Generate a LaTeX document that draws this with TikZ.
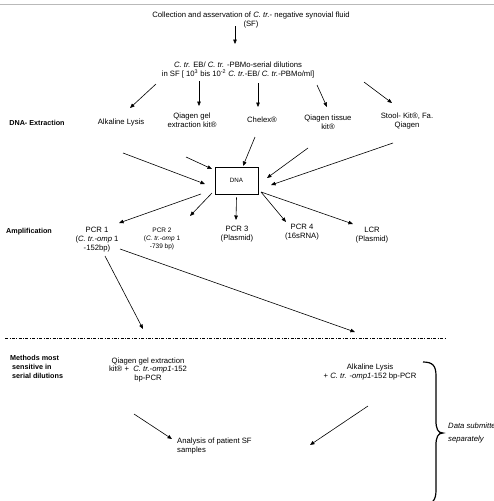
\documentclass[tikz,border=0pt]{standalone}
\usepackage{fontspec}
\setmainfont{Liberation Sans}
\usetikzlibrary{calc,arrows.meta}

\tikzset{
  txt/.style={align=center, inner sep=0pt, font=\fontsize{7.7}{8.9}\selectfont},
  small/.style={align=center, inner sep=0pt, font=\fontsize{6.5}{8}\selectfont},
  head/.style={align=left, inner sep=0pt, font=\bfseries\fontsize{7.2}{8.7}\selectfont},
  arr/.style={-{Triangle[length=4.5pt,width=3.6pt]}, line width=0.6pt}
}

\begin{document}
\begin{tikzpicture}[x=1pt, y=-1pt]
        \useasboundingbox (0,0) rectangle (494,501);

                % Header rule
                \draw[gray!55, line width=0.8pt] (0,4) -- (494,4);

                % Define the nodes (pixel coordinates, y down)
                \node[txt] (coll) at (251,20) {Collection and asservation of \textit{C. tr.}- negative synovial fluid\\(SF)};
                \node[txt] (dil) at (238,70) {\textit{C. tr.} EB/ \textit{C. tr.} -PBMo-serial dilutions\\in SF [ 10\textsuperscript{3} bis 10\textsuperscript{-2} \textit{C. tr.}-EB/ \textit{C. tr.}-PBMo/ml]};

                \node[head] (ext) at (37,123) {DNA- Extraction};
                \node[txt] (alk) at (121,123) {Alkaline Lysis};
                \node[txt] (qgel) at (192,120) {Qiagen gel\\extraction kit®};
                \node[txt] (chelex) at (262,120) {Chelex®};
                \node[txt] (qtis) at (328,122) {Qiagen tissue\\kit®};
                \node[txt] (stool) at (407,121) {Stool- Kit®, Fa.\\Qiagen};

                \node[draw, line width=0.7pt, minimum width=43pt, minimum height=27pt, inner sep=0pt, font=\fontsize{6.2}{7}\selectfont] (dna) at (236.5,180.5) {DNA};

                \node[head] (amp) at (29,232) {Amplification};
                \node[txt] (pcr1) at (97,240) {PCR 1\\(\textit{C. tr.-omp} 1\\-152bp)};
                \node[small] (pcr2) at (162,239) {PCR 2\\(\textit{C. tr.-omp} 1\\-739 bp)};
                \node[txt] (pcr3) at (237,234) {PCR 3\\(Plasmid)};
                \node[txt] (pcr4) at (302,232) {PCR 4\\(16sRNA)};
                \node[txt] (lcr) at (372,235) {LCR\\(Plasmid)};

                % Separator
                \draw[line width=0.5pt, dash pattern=on 3pt off 1.5pt on 0.8pt off 1.5pt] (5,338) -- (445,338);

                \node[head, anchor=west] (meth) at (10,367) {Methods most\\\ sensitive in\\\ serial dilutions};
                \node[txt] (best1) at (148,370) {Qiagen gel extraction\\kit® +\ \ \textit{C. tr.-omp1}-152\\bp-PCR};
                \node[txt] (best2) at (370,372) {Alkaline Lysis\\+ \textit{C. tr.} -\textit{omp1}-152 bp-PCR};
                \node[txt, align=left, anchor=west] (ana) at (177,446) {Analysis of patient SF\\samples};
                \node[align=left, anchor=west, inner sep=0pt, font=\itshape\fontsize{7.7}{13}\selectfont] (data) at (448,433.5) {Data submitted\\separately};

                % Arrows
                \draw[arr] ($(coll)+(-16,6)$) -- ($(dil)+(-3,-26)$);
                \draw[arr] ($(dil)+(-82,14)$) -- ($(alk)+(9,-15)$);
                \draw[arr] ($(dil)+(-39,11)$) -- ($(qgel)+(7,-14)$);
                \draw[arr] ($(dil)+(20,13)$) -- ($(chelex)+(-4,-13)$);
                \draw[arr] ($(dil)+(79,15)$) -- ($(qtis)+(-1,-15)$);
                \draw[arr] ($(dil)+(126,12)$) -- ($(stool)+(-15,-18)$);

                \draw[arr] ($(alk)+(2,30)$) -- ($(dna)+(-31.5,3.5)$);
                \draw[arr] ($(qgel)+(-6,37)$) -- ($(dna)+(-24.5,-11.5)$);
                \draw[arr] ($(chelex)+(-7,17)$) -- ($(dna)+(6.5,-14.5)$);
                \draw[arr] ($(qtis)+(-20,26)$) -- ($(dna)+(30.5,-2.5)$);
                \draw[arr] ($(stool)+(-14,22)$) -- ($(dna)+(34.5,4.5)$);

                \draw[arr] ($(dna)+(-35.5,13.5)$) -- ($(pcr1)+(22,-17)$);
                \draw[arr] ($(dna)+(-24.5,12.5)$) -- ($(pcr2)+(28,-23)$);
                \draw[arr] ($(dna.south)+(0,3)$) -- ($(pcr3)+(-1,-14)$);
                \draw[arr] ($(dna)+(24.5,11.5)$) -- ($(pcr4)+(-16,-10)$);
                \draw[arr] ($(dna)+(24.5,11.5)$) -- ($(lcr)+(-19,-11)$);

                \draw[arr] ($(pcr1)+(8,16)$) -- ($(best1)+(-5,-41)$);
                \draw[arr] ($(pcr1)+(23,9)$) -- ($(best2)+(-15,-40)$);

                \draw[arr] ($(best1)+(-14,44)$) -- ($(ana.west)+(-5,-7)$);
                \draw[arr] ($(best2)+(-2,34)$) -- ($(ana.west)+(133,-1)$);

                % Brace
                \draw[line width=1.2pt] (423,362) .. controls (433,362) and (436,366) .. (436,376) -- (436,421)
                        .. controls (436,429) and (438,433) .. (443,433)
                        .. controls (438,433) and (436,437) .. (436,445) -- (436,490)
                        .. controls (436,500) and (433,504) .. (423,505);
            \end{tikzpicture}
\end{document}
